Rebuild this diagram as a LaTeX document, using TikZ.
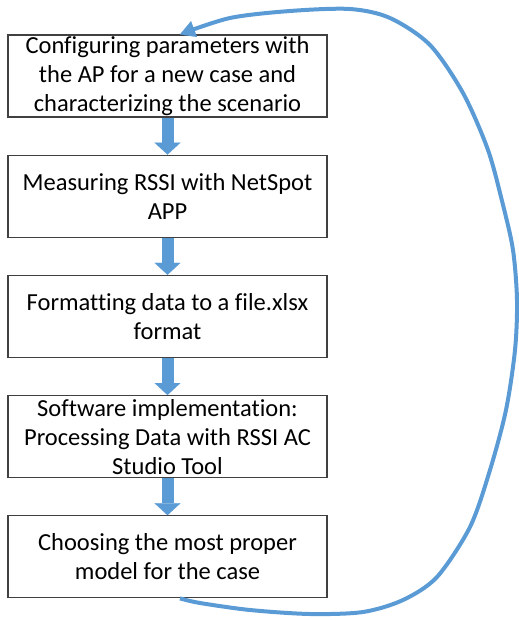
\documentclass[tikz,border=0pt]{standalone}
\usepackage{fontspec}
\setmainfont{Carlito}[Ligatures=NoCommon]
\usetikzlibrary{positioning,arrows.meta}
\definecolor{arrowblue}{HTML}{5B9BD5}
\definecolor{boxgray}{HTML}{404040}
\begin{document}
\begin{tikzpicture}[x=1pt,y=1pt,node distance=37pt,
  box/.style={draw=boxgray,line width=1.2pt,minimum width=319pt,minimum height=82pt,
    inner sep=0pt,align=center,font=\fontsize{24.5}{29}\selectfont},
  flow/.style={-{Triangle[length=12pt,width=26pt,line width=0.1pt,fill=arrowblue]},line width=12pt,draw=arrowblue},
  back/.style={-{Triangle[length=15pt,width=17pt,line width=0.1pt,fill=arrowblue]},line width=4pt,draw=arrowblue}]
  \useasboundingbox (0,0) rectangle (519,-621);
  \node (Cfg) at (167.5,-76) [box] {Configuring parameters with\\the AP for a new case and\\characterizing the scenario};
  \node (Meas) [box,below=of Cfg] {Measuring RSSI with NetSpot\\APP};
  \node (Fmt) [box,below=of Meas] {Formatting data to a file.xlsx\\format};
  \node (Soft) [box,below=of Fmt] {Software implementation:\\Processing Data with RSSI AC\\Studio Tool};
  \node (Model) [box,below=of Soft] {Choosing the most proper\\model for the case};
  \path[flow]
    (Cfg) edge (Meas)
    (Meas) edge (Fmt)
    (Fmt) edge (Soft)
    (Soft) edge (Model);
  % loop back to the first step
  \draw[back] plot[smooth] coordinates {([xshift=12.5pt]Model.south) (200,-603) (250,-610)
    (310,-614) (363,-612) (403,-600) (437,-577) (470,-527) (490,-470) (506,-410) (515,-350)
    (517,-300) (513,-250) (503,-205) (488,-150) (463,-93) (430,-45) (390,-18) (350,-9)
    (290,-11) (230,-18) ([xshift=12.5pt]Cfg.north)};
\end{tikzpicture}
\end{document}
